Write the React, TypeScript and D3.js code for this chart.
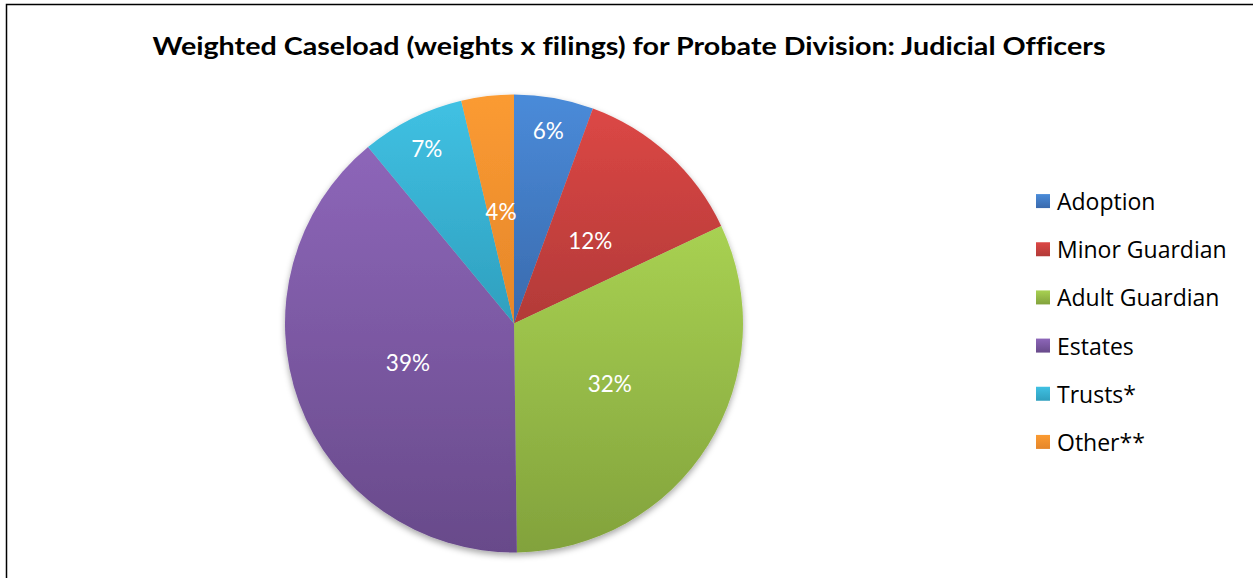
import React from "react";
import * as d3 from "d3";

const categories = ["Adoption", "Minor Guardian", "Adult Guardian", "Estates", "Trusts*", "Other**"];
const values = [5.6, 12.4, 31.8, 39.2, 7.3, 3.7];
const topColors = ["#4a8bd9", "#dc4745", "#a8d152", "#8d66b9", "#40c1e3", "#fb9b32"];
const bottomColors = ["#3a6aad", "#b23a38", "#82a23c", "#684a8a", "#2f9fbe", "#e5862a"];
const title = "Weighted Caseload (weights x filings) for Probate Division: Judicial Officers";
const outerLabelCategories = ["Adoption", "Trusts*"];

const W = 1253;
const H = 578;
const cx = 514;
const cy = 323.5;
const R = 229;

export default function App() {
  const pie = d3.pie<number>().sort(null).value((d) => d)(values);
  const arc = d3.arc<d3.PieArcDatum<number>>().innerRadius(0).outerRadius(R);
  const inner = d3.arc<d3.PieArcDatum<number>>().innerRadius(113).outerRadius(113);
  const outer = d3.arc<d3.PieArcDatum<number>>().innerRadius(196).outerRadius(196);
  const legendY = d3.scaleBand<string>().domain(categories).range([177, 466]);
  const font = "Lato, 'Open Sans', sans-serif";

  return (
    <svg width={W} height={H} style={{ position: "absolute", left: 0, top: 0, background: "#fff", fontVariantLigatures: "none" }} fontFamily={font}>
      <defs>
        {categories.map((c, i) => (
          <linearGradient key={c} id={`g${i}`} x1="0" y1="0" x2="0" y2="1">
            <stop offset="0" stopColor={topColors[i]} />
            <stop offset="1" stopColor={bottomColors[i]} />
          </linearGradient>
        ))}
        <filter id="shadow" x="-10%" y="-10%" width="120%" height="125%">
          <feDropShadow dx="0" dy="3" stdDeviation="3" floodColor="#000" floodOpacity="0.35" />
        </filter>
      </defs>
      <rect x={6.5} y={4.5} width={W} height={H} fill="none" stroke="#000" strokeWidth={1.5} />
      <text x={629} y={55} textAnchor="middle" fontSize={24} fontWeight="bold" fill="#000" textLength={953} lengthAdjust="spacingAndGlyphs">
        {title}
      </text>
      <g transform={`translate(${cx},${cy})`}>
        <g filter="url(#shadow)">
          {pie.map((p, i) => (
            <path key={i} d={arc(p) || ""} fill={`url(#g${i})`} />
          ))}
        </g>
        {pie.map((p, i) => {
          const [lx, ly] = (outerLabelCategories.includes(categories[i]) ? outer : inner).centroid(p);
          return (
            <text key={i} x={lx} y={ly} textAnchor="middle" dominantBaseline="central" fill="#fff" fontSize={22.5}>
              {`${Math.round(values[i])}%`}
            </text>
          );
        })}
      </g>
      <g>
        {categories.map((c, i) => {
          const y = (legendY(c) || 0) + legendY.bandwidth() / 2;
          return (
            <g key={c}>
              <rect x={1036} y={y - 7} width={14} height={14} fill={`url(#g${i})`} />
              <text x={1057} y={y} dominantBaseline="central" fontSize={23} fill="#000" fontFamily="'Open Sans', sans-serif">
                {c}
              </text>
            </g>
          );
        })}
      </g>
    </svg>
  );
}
